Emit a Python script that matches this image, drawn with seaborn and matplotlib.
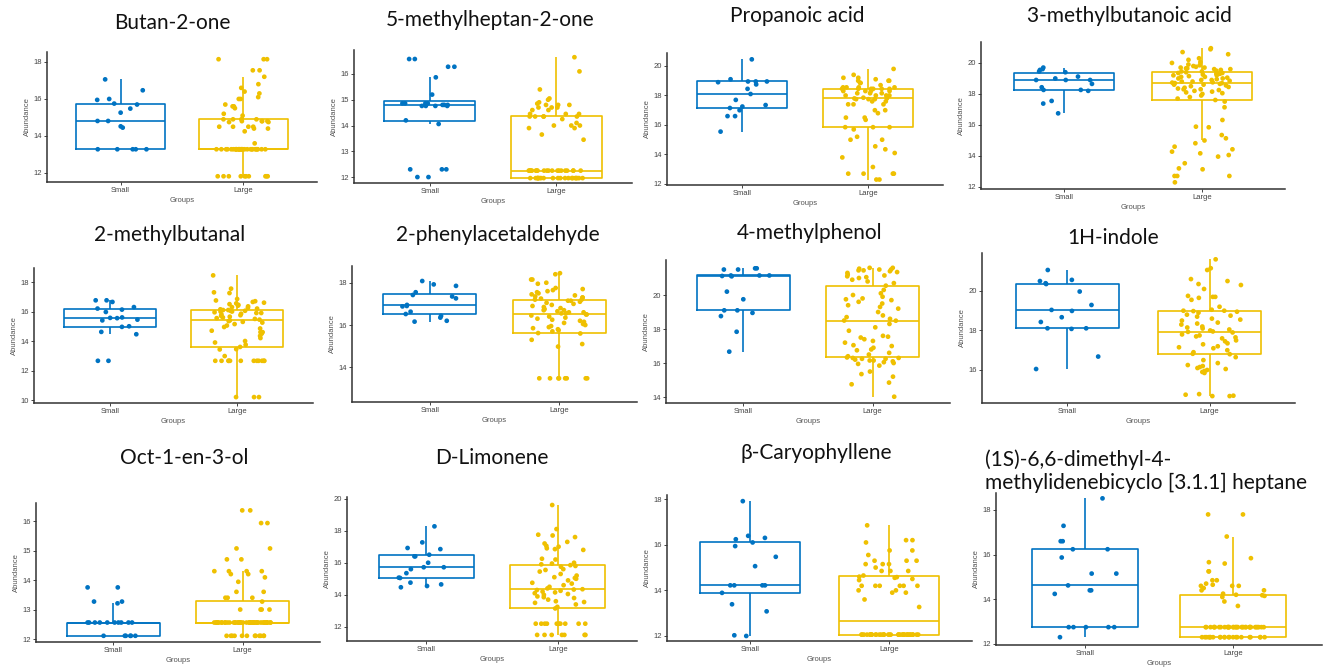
import numpy as np
import pandas as pd
import matplotlib
matplotlib.use("Agg")
import matplotlib.pyplot as plt
import seaborn as sns

np.random.seed(7)

sns.set_theme(style="ticks")
plt.rcParams["font.family"] = ["Liberation Sans", "DejaVu Sans"]

groups = ["Small", "Large"]
palette = {"Small": "#0073C2", "Large": "#EFC000"}

titles = [
    "Butan-2-one", "5-methylheptan-2-one", "Propanoic acid", "3-methylbutanoic acid",
    "2-methylbutanal", "2-phenylacetaldehyde", "4-methylphenol", "1H-indole",
    "Oct-1-en-3-ol", "D-Limonene", "\u03b2-Caryophyllene",
    "(1S)-6,6-dimethyl-4-\nmethylidenebicyclo [3.1.1] heptane",
]

# Butan-2-one
butanone_small = [13.28, 13.28, 13.28, 13.28, 13.28, 14.45, 14.52, 14.81, 14.81, 15.26,
                  15.48, 15.70, 15.75, 15.95, 16.00, 16.47, 17.06]
butanone_large = [11.82, 11.82, 11.82, 11.82, 11.82, 11.82, 11.82, 11.82, 11.82, 11.82,
                  13.28, 13.28, 13.28, 13.28, 13.28, 13.28, 13.28, 13.28, 13.28, 13.28,
                  13.28, 13.28, 13.28, 13.28, 13.28, 13.28, 13.28, 13.28, 13.28, 13.28,
                  13.28, 13.28, 13.28, 13.28, 13.28, 13.28, 13.28, 13.28, 13.28, 13.28,
                  13.6, 14.25, 14.4, 14.4, 14.5, 14.5, 14.5, 14.5, 14.75, 14.75,
                  14.8, 14.8, 14.8, 14.8, 14.9, 14.9, 14.9, 14.9, 15.1, 15.2,
                  15.5, 15.6, 15.6, 15.7, 16.0, 16.0, 16.1, 16.3, 16.4, 16.6,
                  16.8, 17.2, 17.55, 17.55, 18.15, 18.15, 18.15]

# 5-methylheptan-2-one
heptanone_small = [12.0, 12.0, 12.3, 12.3, 12.3, 14.06, 14.2, 14.76, 14.76, 14.76,
                   14.76, 14.8, 14.8, 14.8, 14.86, 14.86, 14.86, 14.86, 15.2, 15.87,
                   16.28, 16.28, 16.58, 16.58]
heptanone_large = [11.96, 11.96, 11.96, 11.96, 11.96, 11.96, 11.96, 11.96, 11.96, 11.96,
                   11.96, 11.96, 11.96, 11.96, 11.96, 11.96, 11.96, 11.96, 11.96, 11.96,
                   12.25, 12.25, 12.25, 12.25, 12.25, 12.25, 12.25, 12.25, 12.25, 12.25,
                   12.25, 12.25, 12.25, 12.25, 12.25, 12.25, 12.25, 12.25, 12.25, 12.25,
                   13.45, 13.65, 13.9, 13.9, 14.0, 14.0, 14.0, 14.1, 14.25, 14.35,
                   14.35, 14.35, 14.35, 14.35, 14.45, 14.45, 14.45, 14.6, 14.6, 14.7,
                   14.7, 14.7, 14.8, 14.8, 14.8, 14.85, 14.9, 15.0, 15.05, 15.4,
                   16.1, 16.65]

# Propanoic acid
propanoic_small = [15.55, 16.6, 16.6, 17.0, 17.15, 17.25, 17.35, 17.7, 18.1, 18.45,
                   18.75, 18.9, 18.95, 18.95, 18.95, 19.1, 20.45]
propanoic_large = [12.3, 12.3, 12.7, 12.7, 12.7, 12.7, 13.15, 13.8, 14.1, 14.35,
                   14.55, 15.0, 15.0, 15.2, 15.7, 15.85, 15.85, 15.85, 16.35, 16.5,
                   16.5, 16.8, 17.0, 17.0, 17.4, 17.4, 17.4, 17.6, 17.6, 17.75,
                   17.75, 17.75, 17.8, 17.8, 17.85, 18.0, 18.0, 18.0, 18.0, 18.15,
                   18.15, 18.15, 18.3, 18.3, 18.3, 18.3, 18.45, 18.45, 18.45, 18.45,
                   18.45, 18.45, 18.55, 18.55, 18.55, 18.55, 18.7, 18.85, 18.85, 19.0,
                   19.0, 19.0, 19.1, 19.2, 19.2, 19.4, 19.8]

# 3-methylbutanoic acid
methylbutanoic_small = [16.75, 17.38, 17.55, 18.2, 18.26, 18.26, 18.43, 18.65, 18.9, 18.9,
                        18.9, 19.0, 19.12, 19.4, 19.45, 19.55, 19.6, 19.7]
methylbutanoic_large = [12.3, 12.71, 12.71, 12.71, 13.14, 13.2, 13.53, 13.96, 14.06, 14.17,
                        14.28, 14.43, 14.6, 14.82, 15.0, 15.14, 15.35, 15.85, 15.89, 16.32,
                        17.14, 17.51, 17.61, 17.7, 17.8, 17.9, 18.0, 18.05, 18.1, 18.15,
                        18.2, 18.25, 18.3, 18.3, 18.35, 18.4, 18.45, 18.5, 18.55, 18.6,
                        18.6, 18.65, 18.7, 18.7, 18.73, 18.75, 18.8, 18.8, 18.85, 18.9,
                        18.9, 18.95, 19.0, 19.0, 19.05, 19.1, 19.1, 19.15, 19.2, 19.2,
                        19.25, 19.3, 19.3, 19.35, 19.35, 19.4, 19.4, 19.45, 19.45, 19.5,
                        19.55, 19.6, 19.6, 19.65, 19.65, 19.7, 19.7, 19.75, 19.8, 19.85,
                        19.9, 20.0, 20.05, 20.2, 20.3, 20.56, 20.7, 20.88, 20.95]

# 2-methylbutanal
methylbutanal_small = [12.66, 12.66, 14.46, 14.62, 14.96, 15.0, 15.4, 15.45, 15.55, 15.57,
                       15.6, 15.97, 16.13, 16.2, 16.3, 16.65, 16.76, 16.76]
methylbutanal_large = [10.2, 10.2, 10.2, 12.66, 12.66, 12.66, 12.66, 12.66, 12.66, 12.66,
                       12.66, 12.66, 12.66, 12.66, 12.66, 12.98, 13.43, 13.45, 13.6, 13.75,
                       13.9, 14.0, 14.2, 14.35, 14.5, 14.6, 14.6, 14.7, 14.85, 14.95,
                       15.05, 15.15, 15.25, 15.3, 15.35, 15.4, 15.45, 15.5, 15.55, 15.6,
                       15.65, 15.7, 15.75, 15.8, 15.85, 15.9, 15.9, 15.95, 16.0, 16.0,
                       16.05, 16.05, 16.1, 16.1, 16.15, 16.2, 16.25, 16.3, 16.35, 16.4,
                       16.45, 16.5, 16.55, 16.6, 16.65, 16.7, 16.75, 16.85, 17.25, 17.3,
                       17.55, 18.45]

# 2-phenylacetaldehyde
phenylacet_small = [16.16, 16.2, 16.35, 16.43, 16.52, 16.63, 16.88, 16.9, 16.95, 17.26,
                    17.35, 17.42, 17.55, 17.85, 17.92, 18.08]
phenylacet_large = [12.15, 12.15, 12.15, 12.15, 12.15, 12.15, 12.15, 13.48, 13.48, 13.48,
                    13.48, 13.48, 13.48, 13.48, 13.48, 14.98, 15.1, 15.3, 15.6, 15.62,
                    15.7, 15.75, 15.8, 15.85, 15.9, 15.95, 16.0, 16.05, 16.1, 16.15,
                    16.2, 16.25, 16.3, 16.35, 16.4, 16.45, 16.5, 16.5, 16.55, 16.55,
                    16.6, 16.6, 16.65, 16.7, 16.7, 16.75, 16.8, 16.85, 16.9, 16.95,
                    17.0, 17.05, 17.1, 17.15, 17.15, 17.2, 17.2, 17.25, 17.3, 17.3,
                    17.35, 17.4, 17.45, 17.5, 17.55, 17.6, 17.65, 17.7, 17.75, 17.95,
                    18.0, 18.15, 18.15, 18.4, 18.45]

# 4-methylphenol
methylphenol_small = [16.67, 17.84, 18.76, 18.95, 19.1, 19.1, 19.75, 20.2, 21.1, 21.12,
                      21.15, 21.15, 21.15, 21.5, 21.5, 21.57, 21.57]
methylphenol_large = [14.02, 14.75, 14.85, 15.2, 15.35, 15.5, 15.85, 15.95, 16.0, 16.05,
                      16.1, 16.15, 16.15, 16.2, 16.25, 16.25, 16.3, 16.3, 16.33, 16.4,
                      16.5, 16.6, 16.75, 16.8, 16.9, 17.0, 17.05, 17.2, 17.3, 17.4,
                      17.5, 17.55, 17.6, 17.9, 18.1, 18.3, 18.49, 18.5, 18.6, 18.7,
                      18.8, 19.0, 19.2, 19.3, 19.4, 19.5, 19.6, 19.7, 19.75, 19.8,
                      19.9, 20.0, 20.1, 20.3, 20.55, 20.7, 20.8, 20.9, 21.0, 21.05,
                      21.1, 21.15, 21.2, 21.3, 21.35, 21.4, 21.45, 21.45, 21.5, 21.5,
                      21.55, 21.6, 21.6]

# 1H-indole
indole_small = [16.05, 16.68, 18.08, 18.11, 18.11, 18.43, 18.67, 18.99, 19.04, 19.29,
                19.97, 20.35, 20.39, 20.5, 20.56, 21.06]
indole_large = [14.68, 14.68, 14.7, 14.75, 14.78, 15.85, 15.9, 15.95, 16.0, 16.05,
                16.1, 16.15, 16.2, 16.25, 16.35, 16.5, 16.65, 16.8, 16.82, 16.9,
                17.0, 17.1, 17.15, 17.2, 17.3, 17.35, 17.45, 17.5, 17.6, 17.65,
                17.7, 17.75, 17.8, 17.9, 17.93, 17.95, 18.0, 18.05, 18.1, 18.15,
                18.2, 18.3, 18.35, 18.4, 18.5, 18.55, 18.6, 18.7, 18.75, 18.8,
                18.9, 18.95, 18.98, 19.0, 19.0, 19.05, 19.2, 19.55, 19.65, 19.7,
                19.7, 19.75, 20.1, 20.3, 20.35, 20.5, 20.6, 21.06, 21.15, 21.6]

# Oct-1-en-3-ol
octenol_small = [12.11, 12.11, 12.11, 12.11, 12.11, 12.11, 12.56, 12.56, 12.56, 12.56,
                 12.56, 12.56, 12.56, 12.56, 12.56, 12.56, 13.21, 13.27, 13.27, 13.75,
                 13.75]
octenol_large = [12.11, 12.11, 12.11, 12.11, 12.11, 12.11, 12.11, 12.11, 12.11, 12.11,
                 12.11, 12.11, 12.56, 12.56, 12.56, 12.56, 12.56, 12.56, 12.56, 12.56,
                 12.56, 12.56, 12.56, 12.56, 12.56, 12.56, 12.56, 12.56, 12.56, 12.56,
                 12.56, 12.56, 12.56, 12.56, 12.56, 12.56, 12.56, 12.56, 12.56, 12.56,
                 12.56, 12.56, 12.56, 12.56, 12.56, 12.56, 12.56, 12.56, 12.56, 12.56,
                 12.56, 12.56, 12.56, 12.56, 12.56, 12.56, 12.56, 12.56, 13.0, 13.0,
                 13.0, 13.0, 13.27, 13.4, 13.4, 13.4, 13.6, 13.6, 13.94, 14.09,
                 14.2, 14.2, 14.3, 14.3, 14.3, 14.3, 14.7, 14.7, 15.07, 15.07,
                 15.93, 15.93, 16.36, 16.36]

# D-Limonene
limonene_small = [14.47, 14.55, 14.65, 14.76, 15.05, 15.07, 15.35, 15.6, 15.72, 15.72,
                  16.0, 16.4, 16.4, 16.5, 16.85, 16.92, 17.27, 18.27]
limonene_large = [11.5, 11.5, 11.5, 11.5, 11.5, 11.5, 11.5, 12.2, 12.2, 12.2,
                  12.2, 12.2, 12.2, 12.2, 12.2, 12.2, 12.2, 13.15, 13.25, 13.4,
                  13.5, 13.55, 13.6, 13.7, 13.8, 13.85, 13.9, 14.0, 14.05, 14.1,
                  14.15, 14.2, 14.25, 14.3, 14.33, 14.35, 14.4, 14.5, 14.6, 14.7,
                  14.75, 14.9, 15.0, 15.05, 15.1, 15.2, 15.3, 15.45, 15.55, 15.6,
                  15.75, 15.8, 15.85, 15.9, 15.95, 16.0, 16.2, 16.25, 16.8, 16.85,
                  16.9, 17.0, 17.05, 17.2, 17.3, 17.6, 17.7, 17.75, 18.1, 19.6]

# beta-Caryophyllene
caryophyllene_small = [12.0, 12.03, 13.08, 13.39, 13.89, 14.22, 14.22, 14.22, 14.22, 15.06,
                       15.47, 15.94, 16.1, 16.24, 16.3, 16.39, 17.91]
caryophyllene_large = [12.06, 12.06, 12.06, 12.06, 12.06, 12.06, 12.06, 12.06, 12.06, 12.06,
                       12.06, 12.06, 12.06, 12.06, 12.06, 12.06, 12.06, 12.06, 12.06, 12.06,
                       12.06, 12.06, 12.06, 12.06, 12.06, 12.06, 12.06, 12.06, 12.06, 12.06,
                       12.06, 12.06, 12.06, 12.06, 12.06, 13.27, 13.6, 13.9, 13.9, 14.0,
                       14.0, 14.2, 14.2, 14.2, 14.2, 14.2, 14.2, 14.45, 14.5, 14.55,
                       14.58, 14.6, 14.65, 14.85, 14.85, 14.85, 15.0, 15.15, 15.15, 15.15,
                       15.3, 15.3, 15.3, 15.55, 15.75, 15.75, 16.1, 16.2, 16.2, 16.85]

# (1S)-6,6-dimethyl-4-methylidenebicyclo[3.1.1]heptane
pinene_small = [12.3, 12.75, 12.75, 12.75, 12.75, 12.75, 14.24, 14.4, 14.4, 14.62,
                15.15, 15.15, 15.87, 16.24, 16.24, 16.6, 16.6, 17.29, 18.52]
pinene_large = [12.3, 12.3, 12.3, 12.3, 12.3, 12.3, 12.3, 12.3, 12.3, 12.3,
                12.3, 12.3, 12.3, 12.3, 12.3, 12.3, 12.3, 12.3, 12.3, 12.3,
                12.3, 12.3, 12.75, 12.75, 12.75, 12.75, 12.75, 12.75, 12.75, 12.75,
                12.75, 12.75, 12.75, 12.75, 12.75, 12.75, 12.75, 12.75, 12.75, 12.75,
                12.75, 12.75, 12.75, 12.75, 12.75, 12.75, 12.75, 12.75, 12.75, 12.75,
                12.75, 12.75, 12.75, 12.75, 12.75, 12.75, 13.7, 13.9, 14.1, 14.15,
                14.18, 14.2, 14.25, 14.4, 14.4, 14.5, 14.6, 14.6, 14.6, 14.65,
                14.7, 14.85, 14.85, 15.25, 15.25, 15.6, 15.66, 15.84, 16.81, 17.8,
                17.8]

small_sets = [butanone_small, heptanone_small, propanoic_small, methylbutanoic_small,
              methylbutanal_small, phenylacet_small, methylphenol_small, indole_small,
              octenol_small, limonene_small, caryophyllene_small, pinene_small]
large_sets = [butanone_large, heptanone_large, propanoic_large, methylbutanoic_large,
              methylbutanal_large, phenylacet_large, methylphenol_large, indole_large,
              octenol_large, limonene_large, caryophyllene_large, pinene_large]

y_limits = [(11.51, 18.54), (11.77, 16.93), (11.93, 20.88), (11.87, 21.35),
            (9.8, 18.95), (12.36, 18.79), (13.65, 22.06), (14.33, 21.92),
            (11.9, 16.61), (11.12, 20.1), (11.78, 18.18), (11.95, 18.76)]
y_ticks = [[12, 14, 16, 18], [12, 13, 14, 15, 16], [12, 14, 16, 18, 20], [12, 14, 16, 18, 20],
           [10, 12, 14, 16, 18], [14, 16, 18], [14, 16, 18, 20], [16, 18, 20],
           [12, 13, 14, 15, 16], [12, 14, 16, 18, 20], [12, 14, 16, 18], [12, 14, 16, 18]]

# axes boxes in pixels: left, top, right, bottom
W, H = 1330, 669
boxes = [(47, 52, 317, 182), (354, 50, 632, 183), (667, 53, 943, 185), (981, 42, 1285, 189),
         (34, 268, 313, 403), (352, 266, 637, 402), (666, 260, 950, 403), (982, 253, 1295, 403),
         (36, 503, 320, 642), (347, 497, 637, 641), (667, 495, 972, 641), (996, 493, 1322, 645)]
title_pos = [(172, 23), (490, 20), (797, 16), (1129, 16),
             (170, 235), (498, 235), (810, 233), (1113, 238),
             (184, 458), (492, 458), (816, 453), (985, 471)]

fig = plt.figure(figsize=(13.3, 6.69), dpi=100)

for i in range(12):
    small = small_sets[i]
    large = large_sets[i]
    df = pd.DataFrame({
        "Groups": ["Small"] * len(small) + ["Large"] * len(large),
        "Abundance": small + large,
    })

    x0, y0, x1, y1 = boxes[i]
    ax = fig.add_axes([x0 / W, 1 - y1 / H, (x1 - x0) / W, (y1 - y0) / H])

    # box outlines only, points drawn on top
    sns.boxplot(
        data=df, x="Groups", y="Abundance",
        hue="Groups", order=groups, hue_order=groups,
        palette=palette, fill=False, width=0.72,
        linewidth=1.2, showcaps=False, showfliers=False,
        legend=False, ax=ax
    )
    sns.stripplot(
        data=df, x="Groups", y="Abundance",
        hue="Groups", order=groups, hue_order=groups,
        palette=palette, jitter=0.22, size=3.4,
        linewidth=0, legend=False, ax=ax
    )

    ax.set_xlim(-0.6, 1.6)
    ax.set_ylim(*y_limits[i])
    ax.set_yticks(y_ticks[i])
    ax.set_xlabel("Groups", fontsize=5.5, color="#555555", labelpad=2)
    ax.set_ylabel("Abundance", fontsize=5.5, color="#555555", labelpad=2)
    ax.tick_params(labelsize=5.5, colors="#444444", length=2, width=0.7, pad=1.5)
    sns.despine(ax=ax)
    for side in ["left", "bottom"]:
        ax.spines[side].set_linewidth(1.1)
        ax.spines[side].set_color("#333333")

    tx, ty = title_pos[i]
    if i == 11:
        fig.text(tx / W, 1 - ty / H, titles[i], ha="left", va="center",
                 fontsize=15, color="#111111", linespacing=1.2,
                 family=["Lato", "DejaVu Sans"])
    else:
        fig.text(tx / W, 1 - ty / H, titles[i], ha="center", va="center",
                 fontsize=15, color="#111111",
                 family=["Lato", "DejaVu Sans"])

fig.savefig("out.png", dpi=100, facecolor="white")
